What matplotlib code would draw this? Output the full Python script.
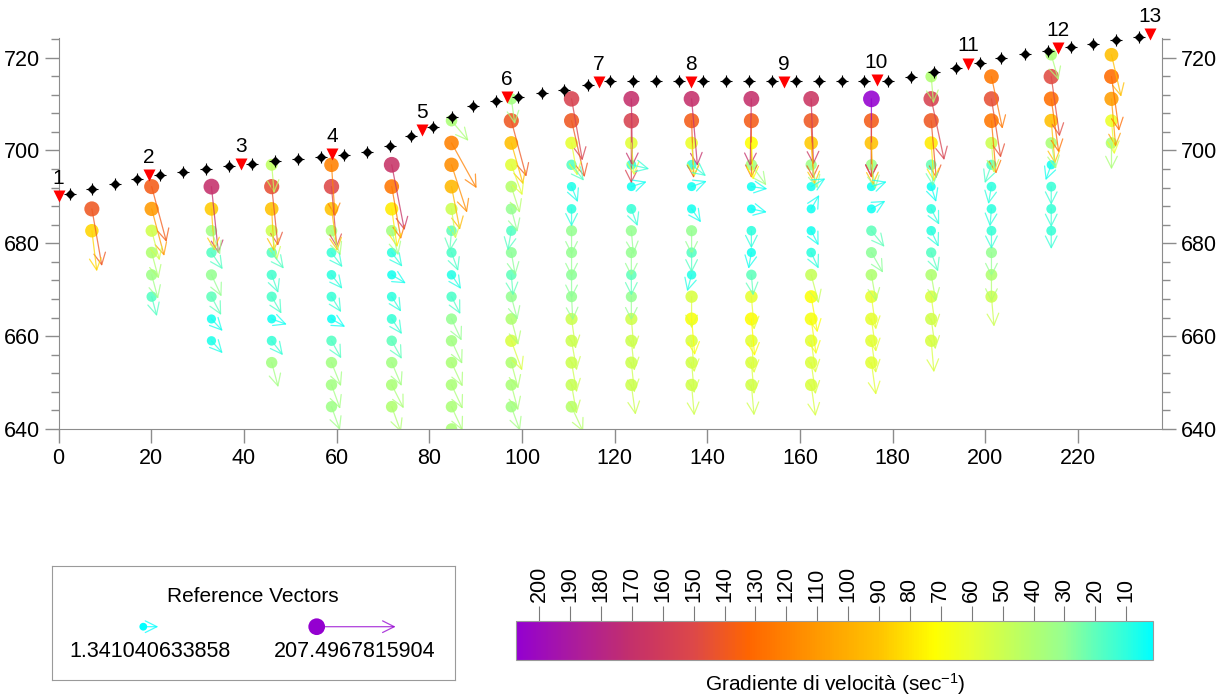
import numpy as np
import matplotlib
matplotlib.use('Agg')
import matplotlib.pyplot as plt
from matplotlib.colors import LinearSegmentedColormap, Normalize
from matplotlib.cm import ScalarMappable
from matplotlib.patches import FancyArrowPatch
from matplotlib.ticker import MultipleLocator

plt.rcParams['font.family'] = ['Liberation Sans', 'DejaVu Sans']
plt.rcParams['mathtext.default'] = 'regular'

# topographic surface (black points)
surf_x = [2.4, 7.3, 12.1, 16.9, 22.0, 26.8, 31.8, 36.8, 41.8, 46.8, 51.7, 56.7,
          61.6, 66.6, 71.5, 76.1, 80.7, 85.0, 89.5, 94.3, 99.2, 104.3, 109.1, 114.2,
          119.0, 124.0, 129.0, 133.9, 139.0, 144.0, 149.0, 153.9, 159.1, 164.0,
          169.0, 173.9, 179.0, 183.9, 188.8, 193.7, 198.8, 203.4, 208.6, 213.4,
          218.4, 223.3, 228.2, 233.2]
surf_z = [690.6, 691.7, 692.7, 693.8, 694.7, 695.4, 696.1, 696.6, 697.1, 697.8, 698.2, 698.6,
          699.1, 699.6, 701.0, 703.0, 705.1, 707.3, 709.5, 710.7, 711.6, 712.4, 713.1, 714.1,
          715.0, 715.0, 715.0, 715.0, 715.0, 715.0, 715.0, 715.0, 715.0, 715.0,
          715.0, 715.0, 715.0, 715.8, 716.8, 717.8, 718.9, 719.9, 720.7, 721.4,
          722.2, 723.0, 723.7, 724.5]

# geophones
geo_x = [0.0, 19.5, 39.3, 59.1, 78.4, 96.8, 116.6, 136.5, 156.5, 176.5, 196.2, 215.7, 235.5]
geo_z = [690.2, 694.6, 697.1, 699.2, 704.3, 711.4, 714.7, 714.7, 714.7, 715.1, 718.7, 722.0, 725.0]
geo_labels = [str(i) for i in range(1, 14)]

# grid of velocity-gradient nodes
col_x = [7.2, 20.1, 33.0, 46.0, 58.9, 71.9, 84.8, 97.7, 110.7, 123.6,
         136.6, 149.5, 162.4, 175.4, 188.3, 201.3, 214.2, 227.2]
row_z = [720.6, 715.9, 711.1, 706.4, 701.6, 696.9, 692.2, 687.4, 682.7, 678.0,
         673.2, 668.5, 663.7, 659.0, 654.3, 649.5, 644.8, 640.0]
col_first_row = [7, 6, 6, 5, 5, 5, 3, 2, 2, 2, 2, 2, 2, 2, 1, 1, 0, 0]
col_values = [
    [140, 85],
    [138, 110, 52, 40, 33, 18],
    [170, 88, 35, 18, 30, 20, 6, 7],
    [45, 145, 90, 50, 18, 15, 16, 5, 12, 35],
    [120, 150, 90, 38, 12, 10, 12, 4, 18, 35, 35, 33],
    [168, 125, 78, 35, 10, 6, 10, 12, 20, 35, 38, 40],
    [38, 120, 115, 95, 50, 20, 16, 8, 16, 30, 35, 38, 38, 38, 38],
    [35, 140, 92, 58, 42, 30, 18, 28, 20, 30, 40, 55, 40, 38, 35],
    [155, 140, 60, 18, 7, 10, 30, 30, 28, 30, 50, 50, 50, 48, 42],
    [170, 155, 58, 12, 5, 12, 30, 30, 20, 30, 52, 50, 50, 50],
    [170, 138, 62, 12, 5, 6, 30, 18, 8, 55, 70, 55, 52, 52],
    [170, 138, 72, 35, 5, 4, 10, 6, 20, 60, 73, 58, 55, 52],
    [165, 140, 88, 32, 6, 5, 6, 10, 48, 70, 68, 58, 56, 55],
    [207.4967815904, 138, 90, 32, 5, 5, 20, 28, 40, 60, 60, 58, 58],
    [40, 155, 140, 78, 22, 5, 10, 10, 18, 40, 55, 52, 55],
    [125, 145, 125, 50, 16, 10, 10, 12, 30, 40, 50],
    [38, 148, 128, 92, 38, 6, 12, 12, 12],
    [92, 130, 108, 62, 38],
]
# vector direction, degrees clockwise from straight down
col_angles = [
    [10, 7],
    [15, 15, 15, 15, 15, 15],
    [6, 4, 20, 34, 25, 28, 43, 42],
    [5, 6, 3, 10, 37, 20, 30, 70, 38, 15],
    [4, 5, 8, 20, 37, 38, 32, 60, 29, 22, 20, 20],
    [11, 10, 8, 15, 37, 59, 32, 34, 29, 23, 27, 20],
    [40, 29, 18, 11, 8, -5, 20, 34, 27, 25, 25, 25, 25, 25, 25],
    [8, 15, 16, 20, 18, 15, -10, 10, 5, 15, 15, 20, 15, 15, 20],
    [10, 13, 10, 38, 22, 0, 0, 0, 0, 3, 8, 10, 10, 10, 25],
    [1, 0, 5, 77, 108, 20, 5, 0, 0, 0, 5, 6, 6, 8],
    [5, 2, 5, 52, 110, 35, 0, 0, -15, 0, 5, 5, 5, 5],
    [-1, 0, 3, 36, 82, 78, 0, -10, 5, 5, 5, 5, 5, 5],
    [2, 2, 5, 15, 120, 150, 27, 25, 15, 10, 8, 8, 8, 8],
    [0, 0, 2, 10, 108, 120, 39, 30, 10, 8, 8, 8, 8],
    [5, 12, 5, 4, 5, 18, 27, 25, 20, 10, 8, 8, 5],
    [12, 9, 5, 5, -20, -10, -5, 0, 0, 0, 5],
    [16, 8, 8, 5, 10, -20, 0, 0, 0],
    [13, 8, 5, 5, 0],
]

v_min, v_max = 1.341040633858, 207.4967815904
cbar_ticks = list(range(10, 201, 10))

stops = [(1.34, '#00ffff'), (10, '#30ffdd'), (20, '#60ffbb'), (30, '#98ff90'),
         (40, '#b0ff70'), (50, '#ccff50'), (60, '#e8ff30'), (72, '#ffff00'),
         (90, '#ffc300'), (110, '#ff9900'), (132, '#ff6600'), (150, '#dd4848'),
         (170, '#c4306a'), (190, '#aa1aa0'), (207.5, '#9400d0')]
cmap = LinearSegmentedColormap.from_list(
    'grad', [((v - v_min) / (v_max - v_min), c) for v, c in
             [(max(min(v, v_max), v_min), c) for v, c in stops]])
norm = Normalize(v_min, v_max)


def dot_px(v):
    return 7.8 + 8.9 * np.sqrt((v - v_min) / (v_max - v_min))


def arrow_px(v):
    return 14.6 + 0.31 * v


ARROW = '->,head_length=0.6,head_width=0.3'

W, H = 1223, 698
fig = plt.figure(figsize=(W / 100, H / 100), dpi=100)
ax = fig.add_axes([58.5 / W, 1 - 429 / H, (1162 - 58.5) / W, (429 - 38.5) / H])
ax.set_xlim(0, 238.1)
ax.set_ylim(640, 724.1)
px_x = ax.bbox.width / 238.1
px_z = ax.bbox.height / 84.1

xs, zs, vs = [], [], []
for cx, j0, vals, angs in zip(col_x, col_first_row, col_values, col_angles):
    for k, (v, a) in enumerate(zip(vals, angs)):
        z = row_z[j0 + k]
        xs.append(cx); zs.append(z); vs.append(v)
        L = arrow_px(v)
        tip = (cx + L * np.sin(np.radians(a)) / px_x, z - L * np.cos(np.radians(a)) / px_z)
        ax.add_patch(FancyArrowPatch((cx, z), tip, arrowstyle=ARROW,
                                     mutation_scale=14, color=cmap(norm(v)), lw=0.9,
                                     alpha=0.75, shrinkA=0, shrinkB=0, zorder=3))
vs = np.array(vs)
ax.scatter(xs, zs, s=(dot_px(vs) * 0.72) ** 2, c=cmap(norm(vs)), alpha=0.88,
           edgecolors='none', zorder=2)

ax.plot(surf_x, surf_z, 'D', color='k', ms=4.4, zorder=4, clip_on=False)
ax.plot(surf_x, surf_z, '+', color='k', ms=8.5, mew=0.8, zorder=4, clip_on=False)
ax.plot(geo_x, geo_z, 'v', color='red', ms=9, mec='none', zorder=5, clip_on=False)
for gx, gz, lab in zip(geo_x, geo_z, geo_labels):
    ax.annotate(lab, (gx, gz), xytext=(0, 6), textcoords='offset points',
                ha='center', va='bottom', fontsize=15, zorder=6, annotation_clip=False)

ax.xaxis.set_major_locator(MultipleLocator(20))
ax.yaxis.set_major_locator(MultipleLocator(20))
ax.yaxis.set_minor_locator(MultipleLocator(4))
ax.spines['top'].set_visible(False)
for s in ['left', 'right', 'bottom']:
    ax.spines[s].set_color('#8c8c8c')
ax.tick_params(axis='both', which='both', direction='out', colors='#8c8c8c',
               labelcolor='black', labelsize=15.5)
ax.tick_params(axis='y', which='both', right=True, labelright=True)
ax.tick_params(axis='both', which='major', length=10, width=1)
ax.tick_params(axis='y', which='minor', length=6, width=1)
ax.set_xticks(range(0, 221, 20))

# reference vectors box
lg = fig.add_axes([52 / W, 1 - 680 / H, 403 / W, 114 / H])
lg.set_xlim(0, 403)
lg.set_ylim(0, 114)
lg.set_xticks([]); lg.set_yticks([])
for s in lg.spines.values():
    s.set_color('#9a9a9a')
lg.text(201, 84, 'Reference Vectors', ha='center', va='center', fontsize=15)
for v, x0, xt in [(v_min, 91.3, 98), (v_max, 264.7, 303)]:
    lg.add_patch(FancyArrowPatch((x0, 53.3), (x0 + arrow_px(v), 53.3), arrowstyle=ARROW,
                                 mutation_scale=14, color=cmap(norm(v)), lw=0.9, alpha=0.75,
                                 shrinkA=0, shrinkB=0))
    lg.scatter([x0], [53.3], s=(dot_px(v) * 0.72) ** 2, color=cmap(norm(v)), edgecolors='none')
    lg.text(xt, 28.3, f'{v:.13g}' if v < 10 else f'{v:.10f}', ha='center', va='center', fontsize=15.5)

# colour bar
cax = fig.add_axes([516 / W, 1 - 660 / H, 637 / W, 39 / H])
cb = fig.colorbar(ScalarMappable(norm=norm, cmap=cmap), cax=cax, orientation='horizontal')
cax.invert_xaxis()
cax.xaxis.set_ticks_position('top')
cb.set_ticks(cbar_ticks)
cb.set_ticklabels([str(t) for t in cbar_ticks])
cax.tick_params(axis='x', length=11, width=0.8, colors='#7a7a7a', labelcolor='black',
                labelsize=15.5, labelrotation=90, pad=3)
cb.outline.set_edgecolor('#9a9a9a')
fig.text(835 / W, 1 - 684 / H, 'Gradiente di velocità (sec$^{-1}$)', ha='center',
         va='center', fontsize=15)

fig.savefig('out.png', dpi=100)
